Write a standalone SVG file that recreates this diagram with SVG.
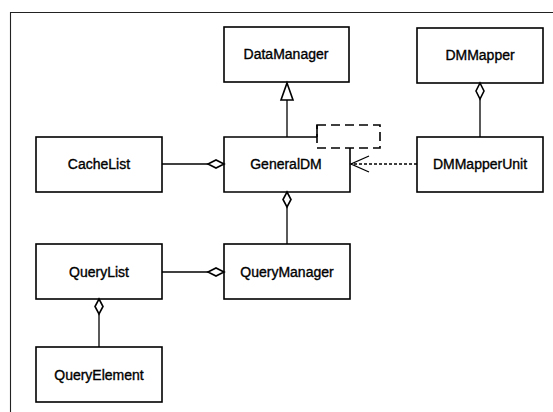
<svg xmlns="http://www.w3.org/2000/svg" width="553" height="412" viewBox="0 0 553 412">
<style>
.box{fill:#fff;stroke:#000;stroke-width:1.6}
.lbl{font-family:"Liberation Sans",Arial,sans-serif;font-size:14px;fill:#000;stroke:#000;stroke-width:0.35;text-anchor:middle}
.ln{fill:none;stroke:#000;stroke-width:1.3}
.dia{fill:#fff;stroke:#000;stroke-width:1.6}
.dash{fill:none;stroke:#000;stroke-width:1.6;stroke-dasharray:9 5}
</style>
<rect width="553" height="412" fill="#fff"/>
<g id="frame"><path d="M10.5,412 V12.5 H553" fill="none" stroke="#222" stroke-width="1.1"/></g>
<g id="DataManager"><rect class="box" x="224" y="27" width="125" height="55"/><text class="lbl" x="286" y="59">DataManager</text></g>
<g id="DMMapper"><rect class="box" x="417" y="28" width="126" height="55"/><text class="lbl" x="480" y="60">DMMapper</text></g>
<g id="CacheList"><rect class="box" x="36" y="137" width="126" height="55"/><text class="lbl" x="99" y="169">CacheList</text></g>
<g id="GeneralDM"><path d="M317,137 H224 V192 H350 V148" fill="#fff" stroke="#000" stroke-width="1.6"/><text class="lbl" x="286" y="169">GeneralDM</text></g>
<g id="TemplateParam"><path d="M317,125 V137" stroke="#000" stroke-width="1.6"/><rect class="dash" x="317" y="125" width="63" height="23"/></g>
<g id="DMMapperUnit"><rect class="box" x="417" y="137" width="126" height="55"/><text class="lbl" x="480" y="169">DMMapperUnit</text></g>
<g id="QueryList"><rect class="box" x="36" y="244" width="126" height="55"/><text class="lbl" x="99" y="277">QueryList</text></g>
<g id="QueryManager"><rect class="box" x="224" y="244" width="126" height="55"/><text class="lbl" x="287" y="277">QueryManager</text></g>
<g id="QueryElement"><rect class="box" x="36" y="347" width="126" height="55"/><text class="lbl" x="99" y="380">QueryElement</text></g>
<g id="connectors">
<path class="ln" d="M287,137 V100"/>
<polygon class="dia" points="287,83 293,100 281,100"/>
<path class="ln" d="M480,99 V137"/>
<polygon class="dia" points="480,83 484,91 480,99 476,91"/>
<path class="ln" d="M162,164 H208"/>
<polygon class="dia" points="224,164 216,160 208,164 216,168"/>
<path class="ln" d="M287,207 V244"/>
<polygon class="dia" points="287,192 291,199.5 287,207 283,199.5"/>
<path class="ln" d="M162,272 H208"/>
<polygon class="dia" points="224,272 216,268 208,272 216,276"/>
<path class="ln" d="M99,314 V347"/>
<polygon class="dia" points="99,299 103,306.5 99,314 95,306.5"/>
<path class="ln" d="M417,164 H351" stroke-dasharray="3 2" stroke-width="1"/>
<path class="ln" d="M369,156 L351,164 L369,172" stroke-width="1.1"/>
</g>
</svg>
